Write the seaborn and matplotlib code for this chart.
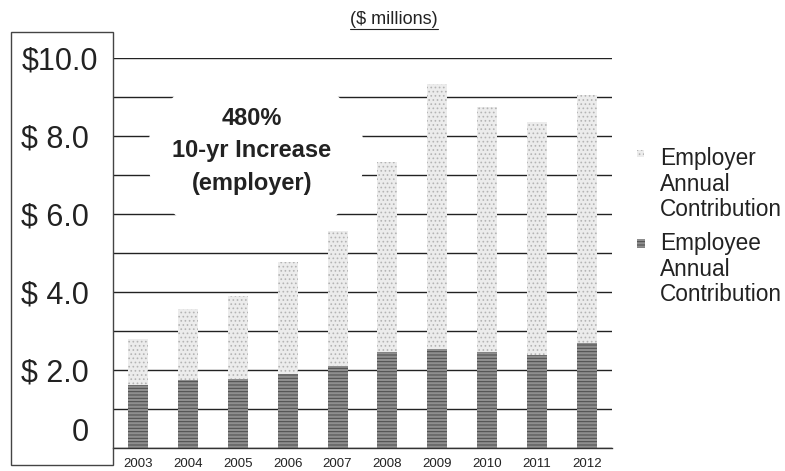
import matplotlib
matplotlib.use("Agg")
import matplotlib.pyplot as plt
import matplotlib.patches as mpatches
from matplotlib.lines import Line2D
from matplotlib.ticker import MultipleLocator, FixedLocator
import seaborn as sns

years = ["2003", "2004", "2005", "2006", "2007", "2008", "2009", "2010", "2011", "2012"]
employee = [1.62, 1.74, 1.77, 1.90, 2.10, 2.46, 2.54, 2.46, 2.38, 2.69]
employer = [1.17, 1.82, 2.13, 2.87, 3.46, 4.87, 6.79, 6.28, 5.98, 6.36]
ytick_vals = [0, 2, 4, 6, 8, 10]
ytick_labels = ["0 ", "$ 2.0 ", "$ 4.0 ", "$ 6.0 ", "$ 8.0 ", "$10.0"]
legend_labels = ["Employer\nAnnual\nContribution", "Employee\nAnnual\nContribution"]

totals = [a + b for a, b in zip(employee, employer)]

sns.set_style("white")
plt.rcParams["font.family"] = ["Liberation Sans", "DejaVu Sans"]
plt.rcParams["hatch.linewidth"] = 0.7

W, H = 785, 471
fig = plt.figure(figsize=(W / 100, H / 100), dpi=100)
ax = fig.add_axes([113 / W, (H - 448) / H, (612 - 113) / W, (448 - 58) / H])

er_face, er_hatch = "#ececec", "#b4b4b4"
ee_face, ee_hatch = "#8e8e8e", "#4a4a4a"

# employer stacked on top of employee -> draw totals first
sns.barplot(x=years, y=totals, color=er_face, width=0.4, ax=ax,
            saturation=1, hatch="....", edgecolor=er_hatch, linewidth=0, zorder=2)
sns.barplot(x=years, y=employee, color=ee_face, width=0.4, ax=ax,
            saturation=1, hatch="-----", edgecolor=ee_hatch, linewidth=0, zorder=2)

ax.set_ylim(0, 10)
ax.set_xlim(-0.5, len(years) - 0.5)
ax.set_xlabel("")
ax.set_ylabel("")
ax.set_yticks(ytick_vals, labels=ytick_labels)
ax.get_yticklabels()[0].set_va("bottom")
ax.yaxis.set_minor_locator(MultipleLocator(1))
ax.yaxis.grid(True, which="both", color="#222222", linewidth=1)
ax.set_axisbelow(True)
ax.tick_params(axis="y", which="both", length=0, pad=11, labelsize=22, labelcolor="#222222")
ax.tick_params(axis="x", which="major", length=0, pad=7, labelsize=9.5, labelcolor="#222222")
ax.xaxis.set_minor_locator(FixedLocator([i + 0.5 for i in range(len(years))]))
ax.tick_params(axis="x", which="minor", length=4, width=1, color="#333333", direction="out")

for s in ["top", "right", "left"]:
    ax.spines[s].set_visible(False)
ax.spines["bottom"].set_color("#333333")
ax.spines["bottom"].set_linewidth(1)

# box around the y tick labels
box = mpatches.Rectangle((11 / W, (H - 465) / H), (113 - 11) / W, (465 - 32) / H,
                         transform=fig.transFigure, fill=False, edgecolor="#444444",
                         linewidth=1)
fig.patches.append(box)

# white blob behind the annotation, hides the gridlines
ax.add_patch(mpatches.Ellipse(((256 - 113) / 499, (448 - 155) / 390), 218 / 499, 178 / 390,
                              transform=ax.transAxes, facecolor="white",
                              edgecolor="none", zorder=1))
fig.text(252 / W, 1 - 151 / H, "480%\n10-yr Increase\n(employer)", ha="center",
         va="center", fontsize=17, fontweight="bold", color="#222222", linespacing=1.55)

title = fig.text(394 / W, 1 - 19 / H, "($ millions)", ha="center", va="center",
                 fontsize=13, color="#222222")

# legend
leg_items = [(legend_labels[0], er_face, "....", er_hatch, 147, (637, 150, 7, 7)),
             (legend_labels[1], ee_face, "-----", ee_hatch, 232, (637, 239, 8, 9))]
for lab, fc, hat, hc, ytop, (rx, ry, rw, rh) in leg_items:
    fig.text(660 / W, 1 - ytop / H, lab, ha="left", va="top", fontsize=16.3,
             color="#222222", linespacing=1.15)
    fig.patches.append(mpatches.Rectangle((rx / W, 1 - (ry + rh) / H), rw / W, rh / H,
                                          transform=fig.transFigure, facecolor=fc,
                                          hatch=hat, edgecolor=hc, linewidth=0))

fig.canvas.draw()
bb = title.get_window_extent()
fig.add_artist(Line2D([bb.x0 / W, bb.x1 / W], [(bb.y0 - 1) / H, (bb.y0 - 1) / H],
                      transform=fig.transFigure, color="#222222", linewidth=0.8))

fig.savefig("out.png", dpi=100)
